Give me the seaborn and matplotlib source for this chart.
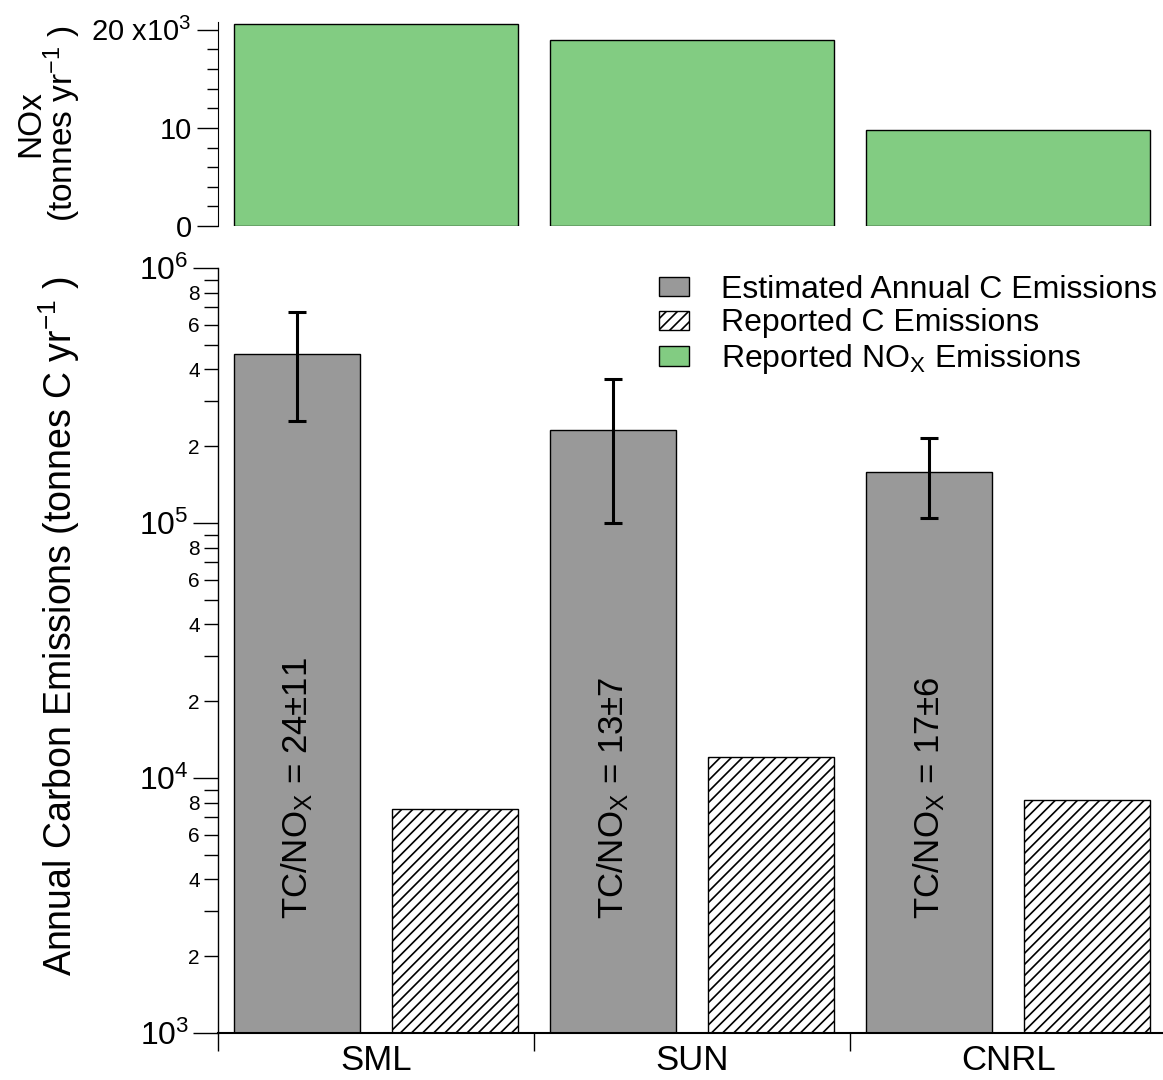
import numpy as np
import pandas as pd
import matplotlib
matplotlib.use('Agg')
import matplotlib.pyplot as plt
import matplotlib.ticker as mticker
from matplotlib.patches import Patch
import seaborn as sns

sites = ['SML', 'SUN', 'CNRL']
nox = [20600, 19000, 9800]
est_c = [460000, 232000, 158000]
est_lo = [251000, 100000, 105000]
est_hi = [672000, 367000, 215000]
rep_c = [7560, 12100, 8200]
ratio_text = ['24±11', '13±7', '17±6']

kinds = ['Estimated Annual C Emissions', 'Reported C Emissions']
gray = '#999999'
green = '#82cc82'

sns.set_style('ticks')
plt.rcParams['font.family'] = ['Liberation Sans', 'DejaVu Sans']
plt.rcParams['mathtext.fontset'] = 'custom'
plt.rcParams['mathtext.rm'] = 'Liberation Sans'
plt.rcParams['mathtext.it'] = 'Liberation Sans'
plt.rcParams['hatch.linewidth'] = 1.2
for k in ['text.color', 'axes.labelcolor', 'xtick.color', 'ytick.color', 'axes.edgecolor']:
    plt.rcParams[k] = 'black'

fig = plt.figure(figsize=(11.63, 10.8), dpi=100)
ax_top = fig.add_axes([218 / 1163, 1 - 226 / 1080, 945 / 1163, (226 - 22) / 1080])
ax = fig.add_axes([218 / 1163, 1 - 1033 / 1080, 945 / 1163, (1033 - 268) / 1080])

# --- top panel: NOx
top_df = pd.DataFrame({'site': sites, 'nox': nox})
sns.barplot(data=top_df, x='site', y='nox', color=green, saturation=1,
            width=0.9, edgecolor='black', linewidth=1, ax=ax_top)
ax_top.set_xlim(-0.5, 2.49)
ax_top.set_ylim(0, 20800)
ax_top.yaxis.set_major_locator(mticker.FixedLocator([0, 10000, 20000]))
ax_top.yaxis.set_minor_locator(mticker.MultipleLocator(2000))
ax_top.set_yticklabels(['0', '10', r'20 x10$^3$'])
ax_top.tick_params(axis='y', which='major', length=15, width=1, labelsize=21, pad=4)
ax_top.tick_params(axis='y', which='minor', length=8, width=1)
ax_top.set_xticks([])
ax_top.set_xlabel('')
for s in ['top', 'right', 'bottom']:
    ax_top.spines[s].set_visible(False)
ax_top.set_ylabel('NOx\n(tonnes yr$^{-1}$ )', fontsize=24, linespacing=0.85, labelpad=6)

# --- bottom panel: carbon emissions
df = pd.DataFrame({
    'site': sites * 2,
    'kind': [kinds[0]] * 3 + [kinds[1]] * 3,
    'value': est_c + rep_c,
})
ax.set_yscale('log')
sns.barplot(data=df, x='site', y='value', hue='kind', order=sites, hue_order=kinds,
            palette=[gray, 'white'], saturation=1, width=1.0, gap=0.2,
            edgecolor='black', linewidth=1, ax=ax)
ax.get_legend().remove()

est_bars = ax.patches[:3]
rep_bars = ax.patches[3:6]
for b in rep_bars:
    b.set_hatch('///')

xc = [b.get_x() + b.get_width() / 2 for b in est_bars]
yerr = [np.array(est_c) - np.array(est_lo), np.array(est_hi) - np.array(est_c)]
ax.errorbar(xc, est_c, yerr=yerr, fmt='none', ecolor='black', elinewidth=2.2,
            capsize=6.5, capthick=2.2, zorder=5)

for x, t in zip(xc, ratio_text):
    ax.text(x, 2800, 'TC/NO$_X$ = ' + t, rotation=90, ha='center', va='bottom', fontsize=25)

ax.set_xlim(-0.5, 2.49)
ax.set_ylim(1e3, 1e6)

ax.yaxis.set_major_locator(mticker.LogLocator(base=10, numticks=10))
ax.yaxis.set_major_formatter(mticker.FuncFormatter(lambda v, p: r'$10^{%d}$' % round(np.log10(v))))
ax.yaxis.set_minor_locator(mticker.LogLocator(base=10, subs=np.arange(2, 10), numticks=20))


def minor_fmt(v, p):
    m = int(round(v / 10 ** np.floor(np.log10(v) + 1e-9)))
    return str(m) if m in (2, 4, 6, 8) else ''


ax.yaxis.set_minor_formatter(mticker.FuncFormatter(minor_fmt))
ax.tick_params(axis='y', which='major', length=18, width=1, labelsize=23, pad=3)
ax.tick_params(axis='y', which='minor', length=10, width=1, labelsize=15, pad=3)

ax.set_xticks([-0.5, 0.5, 1.5])
ax.set_xticklabels(['', '', ''])
ax.set_xticks([0, 1, 2], minor=True)
ax.set_xticklabels(sites, minor=True, fontsize=25)
ax.tick_params(axis='x', which='major', length=13, width=1, direction='out')
ax.tick_params(axis='x', which='minor', length=0, pad=8)
ax.set_xlabel('')
ax.set_ylabel('Annual Carbon Emissions (tonnes C yr$^{-1}$ )', fontsize=27)
ax.yaxis.set_label_coords(-0.144, 0.532)
for s in ['top', 'right']:
    ax.spines[s].set_visible(False)
ax.spines['bottom'].set_linewidth(1.5)
ax.spines['left'].set_linewidth(1)

handles = [
    Patch(facecolor=gray, edgecolor='black', linewidth=1),
    Patch(facecolor='white', edgecolor='black', linewidth=1, hatch='///'),
    Patch(facecolor=green, edgecolor='black', linewidth=1),
]
labels = ['Estimated Annual C Emissions', 'Reported C Emissions', 'Reported NO$_X$ Emissions']
ax.legend(handles, labels, loc='upper right', bbox_to_anchor=(1.0 + 7 / 945, 1.008), frameon=False,
          fontsize=23, handlelength=0.95, handleheight=0.55, handletextpad=1.0,
          labelspacing=0.12, borderaxespad=0)

fig.savefig('out.png', dpi=100)
